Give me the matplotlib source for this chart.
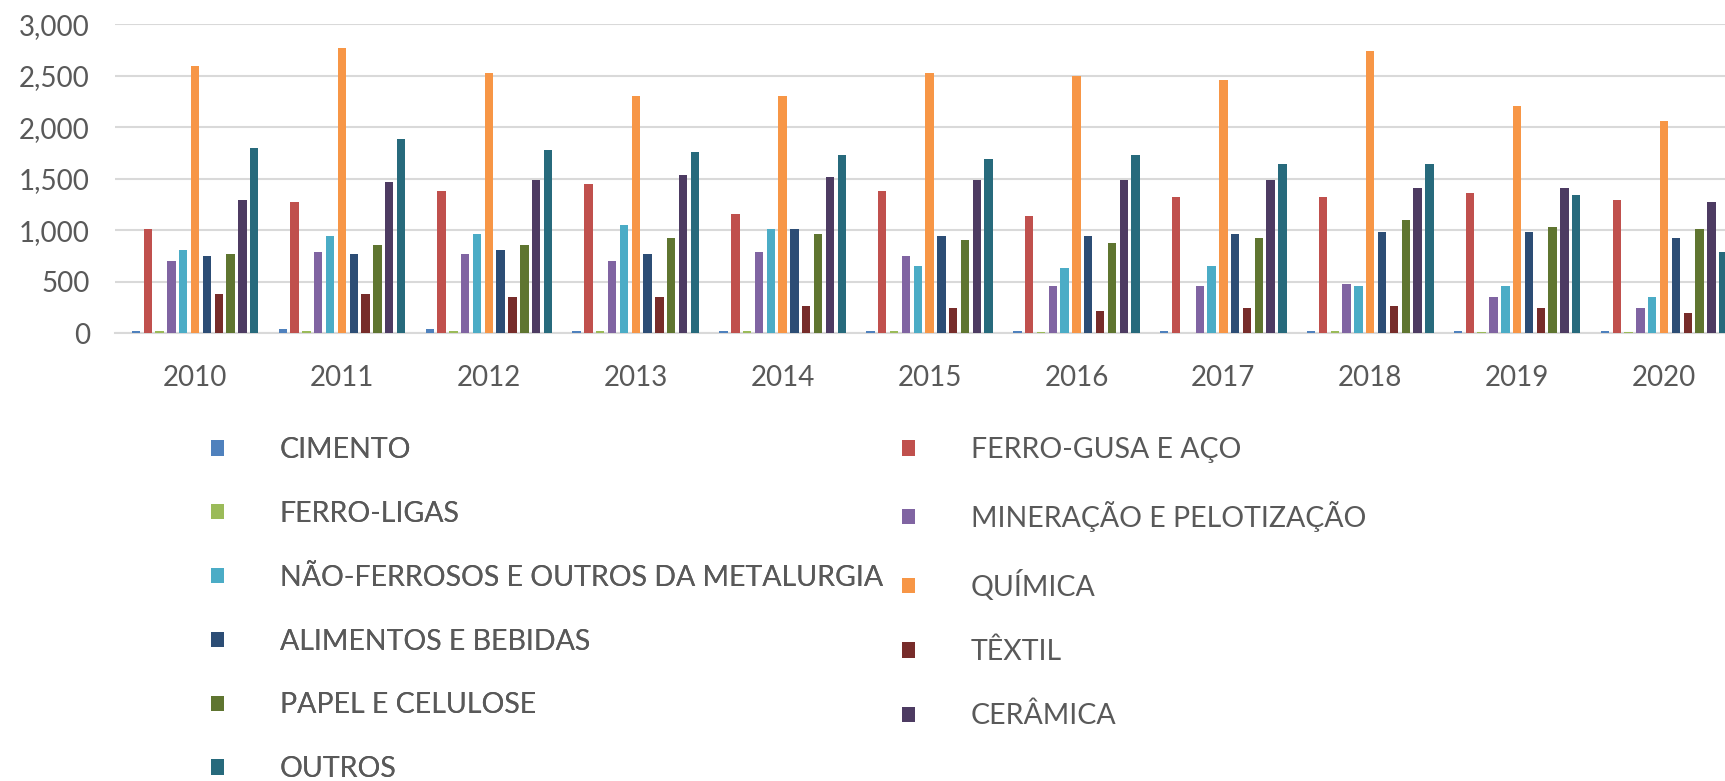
import matplotlib.pyplot as plt
import numpy as np

plt.rcParams.update({
    "font.family": ["Lato", "DejaVu Sans"],
    "font.size": 20,
})

anos = ["2010", "2011", "2012", "2013", "2014", "2015", "2016", "2017", "2018", "2019", "2020"]

# valores (mil tep / ano)
cimento = [20, 42, 42, 20, 20, 20, 20, 20, 20, 20, 20]
ferro_gusa = [1010, 1270, 1380, 1450, 1160, 1380, 1140, 1320, 1320, 1360, 1295]
ferro_ligas = [15, 15, 15, 15, 15, 15, 5, 3, 15, 10, 10]
mineracao = [700, 790, 765, 700, 790, 745, 455, 455, 480, 350, 240]
nao_ferrosos = [810, 940, 965, 1050, 1010, 655, 635, 655, 455, 455, 350]
quimica = [2590, 2765, 2525, 2300, 2300, 2525, 2500, 2460, 2740, 2210, 2065]
alimentos = [745, 765, 810, 765, 1010, 940, 940, 965, 985, 985, 920]
textil = [375, 375, 350, 350, 265, 240, 215, 240, 265, 240, 195]
papel = [765, 855, 855, 920, 965, 900, 875, 920, 1095, 1030, 1010]
ceramica = [1295, 1470, 1490, 1535, 1515, 1490, 1490, 1490, 1405, 1405, 1270]
outros = [1800, 1885, 1775, 1755, 1730, 1690, 1730, 1645, 1645, 1340, 790]

series = [
    ("CIMENTO", cimento, "#4F81BD"),
    ("FERRO-GUSA E AÇO", ferro_gusa, "#C0504D"),
    ("FERRO-LIGAS", ferro_ligas, "#9BBB59"),
    ("MINERAÇÃO E PELOTIZAÇÃO", mineracao, "#8064A2"),
    ("NÃO-FERROSOS E OUTROS DA METALURGIA", nao_ferrosos, "#4BACC6"),
    ("QUÍMICA", quimica, "#F79646"),
    ("ALIMENTOS E BEBIDAS", alimentos, "#2C4D75"),
    ("TÊXTIL", textil, "#772C2A"),
    ("PAPEL E CELULOSE", papel, "#5F7530"),
    ("CERÂMICA", ceramica, "#4D3B62"),
    ("OUTROS", outros, "#276A7C"),
]

cinza = "#595959"
W, H = 1725, 781
fig = plt.figure(figsize=(W / 100, H / 100), dpi=100)
ax = fig.add_axes([115 / W, 1 - 333 / H, 1 - 115 / W, (333 - 24.3) / H])

x = np.arange(len(anos))
passo = 0.0805
barras = []
for i, (nome, vals, cor) in enumerate(series):
    b = ax.bar(x + (i - 5) * passo, vals, width=0.057, color=cor, label=nome, zorder=3)
    barras.append(b)

ax.set_ylim(0, 3000)
ax.set_xlim(-0.545, 10.415)
ax.set_yticks(np.arange(0, 3001, 500))
ax.set_yticklabels([f"{v:,}" for v in range(0, 3001, 500)])
ax.set_xticks(x)
ax.set_xticklabels(anos)
ax.yaxis.grid(True, color="#D9D9D9", linewidth=1.5, zorder=0)
for s in ["top", "right", "left"]:
    ax.spines[s].set_visible(False)
ax.spines["bottom"].set_color("#D9D9D9")
ax.spines["bottom"].set_linewidth(1.5)
ax.tick_params(axis="both", length=0, colors=cinza, labelsize=20)
ax.tick_params(axis="y", pad=18)
ax.tick_params(axis="x", pad=23)

# legenda em duas colunas (preenchida por linha, como no Excel)
fs = 20.5
opts = dict(loc="upper left", frameon=False, fontsize=fs, labelcolor=cinza,
            handlelength=0.46, handleheight=0.46, handletextpad=1.95,
            labelspacing=1.33, borderpad=0, borderaxespad=0)
col1 = [0, 2, 4, 6, 8, 10]
col2 = [1, 3, 5, 7, 9]
leg1 = fig.legend([barras[k] for k in col1], [series[k][0] for k in col1],
                  bbox_to_anchor=(211 / W, 1 - 437 / H), **opts)
fig.add_artist(leg1)
leg2 = fig.legend([barras[k] for k in col2], [series[k][0] for k in col2],
                  bbox_to_anchor=(902 / W, 1 - 437 / H), **opts)

fig.savefig("out.png", dpi=100)
